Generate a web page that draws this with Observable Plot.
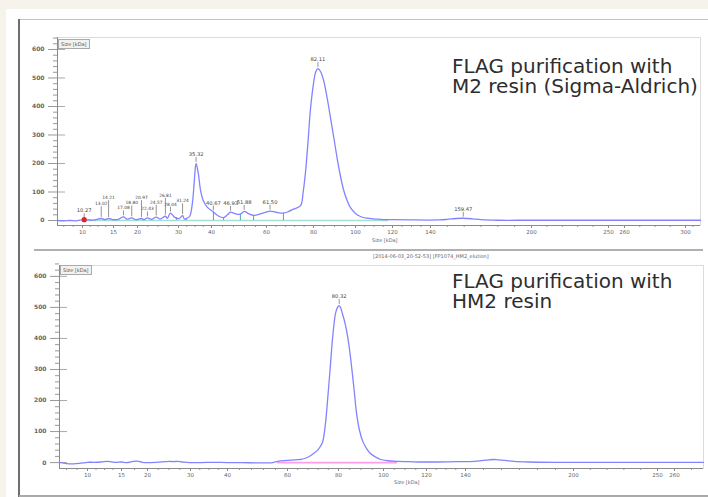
<!DOCTYPE html>
<html><head><meta charset="utf-8">
<script src="https://cdn.jsdelivr.net/npm/d3@7"></script>
<script src="https://cdn.jsdelivr.net/npm/@observablehq/plot@0.6"></script>
<style>
body{margin:0;background:#f6f3ec;font-family:"DejaVu Sans",sans-serif;}
#page{position:relative;width:708px;height:497px;background:#f6f3ec;overflow:hidden;}
.abs{position:absolute;}
.title{position:absolute;font-family:"DejaVu Sans",sans-serif;font-size:20px;line-height:20px;height:20px;color:#2e2e2e;white-space:nowrap;}
.box{position:absolute;border:1px solid #aaa;background:#f2f2f2;font-size:5px;color:#555;line-height:8px;padding:0 2px;white-space:nowrap;}
.small{position:absolute;font-size:5px;color:#666;white-space:nowrap;}
</style></head>
<body>
<div id="page">
  <div class="abs" style="left:6px;top:9px;right:0;bottom:0;background:#fff"></div>
  <div class="abs" style="left:19px;top:19px;right:0;height:1px;background:#c4c4c4"></div>
  <div class="abs" style="left:18px;top:19px;width:1.5px;bottom:0;background:#6e6e6e"></div>
  <div class="abs" style="left:34px;top:249px;right:5px;height:2px;background:#b0b0b0"></div>
  <div class="abs" style="left:19px;top:495px;right:0;height:1.5px;background:#aaa"></div>
  <div id="top" class="abs" style="left:0;top:0"></div>
  <div id="bot" class="abs" style="left:0;top:245px"></div>
  <div class="title" style="left:452px;top:56px">FLAG purification with</div>
  <div class="title" style="left:452px;top:76px">M2 resin (Sigma-Aldrich)</div>
  <div class="title" style="left:452px;top:271px">FLAG purification with</div>
  <div class="title" style="left:452px;top:291px">HM2 resin</div>
  <div class="box" style="left:58px;top:39px">Size [kDa]</div>
  <div class="box" style="left:60px;top:265px">Size [kDa]</div>
  <div class="small" style="left:372px;top:237px">Size [kDa]</div>
  <div class="small" style="left:394px;top:479px">Size [kDa]</div>
  <div class="small" style="left:373px;top:253px">[2014-06-03_20-52-53] [FP1074_HM2_elution]</div>
</div>
<script>
// ---------- data ----------
const topTickKDa = [10,15,20,30,40,60,80,100,120,140,200,250,260,300];
const botTickKDa = [10,15,20,30,40,60,80,100,120,140,200,250,260];
const minorTickKDa = [7,8.5,11.25,12.5,13.75,17.5,22.5,25,27.5,32.5,35,37.5,44,48,52,56,64,68,72,76,85,90,95,105,110,115,125,130,135,150,160,170,180,190,210,220,230,240,270,280,290,305];
const yMajorTicks = [0,100,200,300,400,500,600];

const topKDa = [6,7,8,9,9.6,10.27,11,12,13.02,13.6,14.21,15,16,17.08,17.8,18.8,19.6,20.97,21.6,22.43,23.4,24.57,25.5,26.81,27.3,28.04,29,30.2,31.24,31.8,32.6,33.4,34.2,34.8,35.32,36,36.7,37.5,38.7,40.67,42.5,44.4,45.8,46.93,48.5,50.5,51.88,53.5,55.3,58,61.5,64,67.2,69.5,71.5,74.5,75.6,76.6,77.7,78.7,80,81,82.11,83.4,84.8,86.5,88.1,89.8,91.4,93,94.3,96,97.6,100,102.7,106,110.8,115,120,130,145,150,155,159.47,165,170,180,200,250,300,310];
const topSignal = [0,-1,0,-1,1,3,2,2,7,3,7,3,4,13,5,9,3,7,3,9,4,12,5,15,8,26,12,7,17,5,8,15,60,140,200,165,105,70,47,30,16,10,20,29,24,22,32,24,18,24,33,29,26,32,40,52,100,170,280,390,480,520,533,522,492,430,360,285,212,150,108,70,45,25,14,8,5,3,3,2,2,4,7,8,6,3,1,1,1,1,1];
const topPeakKDa = [10.27,13.02,14.21,17.08,18.8,20.97,22.43,24.57,26.81,28.04,31.24,35.32,40.67,46.93,51.88,61.5,82.11,159.47];
const topPeakHeight = [3,7,7,13,9,7,9,12,15,26,17,200,30,29,32,33,533,8];
const topPeakLabel = ["10.27","13.02","14.21","17.08","18.80","20.97","22.43","24.57","26.81","28.04","31.24","35.32","40.67","46.93","51.88","61.50","82.11","159.47"];
const topMarkerKDa = [29.5,32.3,40.7,44.4,50.5,55.3,67.2];
const topMarkerHeight = [10,6,30,10,22,18,26];
const topBaseline = [10.27,118];

const botKDa = [6,7,8,9,10,11,12,13,14,15,16,17,18,19,20,22,24,25,26,27,28,29,30,33,36,40,45,50,55,56.7,60,63,65,67,69,70.2,72,73.7,74.8,75.7,76.7,77.6,78.3,78.8,79.6,80.32,81,81.8,82.7,83.6,84.7,85.8,87,88,89.3,90.7,92.5,94.2,96.5,98.7,102,106.5,112,117,125,135,145,150,153,155.6,158,162,167,175,190,200,230,260,277];
const botSignal = [1,-3,-4,-2,1,1,2,4,1,2,0,3,5,1,0,1,3,4,3,4,2,1,0,0,1,0,0,-1,0,4,7,9,10,14,22,29,42,65,120,200,300,394,450,480,500,506,498,478,455,425,375,310,230,160,105,70,45,29,18,10,6,4,3,2,2,3,4,7,9,10,9,7,4,2,1,1,1,1,1];
const botPeakKDa = [80.32];
const botPeakHeight = [506];
const botPeakLabel = ["80.32"];
const botBaseline = [56.7,106.5];

// ---------- layout (pixel ranges of the nonlinear size axis) ----------
const topXDomain = [6, ...topTickKDa, 310];
const topXRange  = [57,82,113,137,178,211,266,313,355,392,430,531,608,624,685,700];
const botXDomain = [6, ...botTickKDa, 277];
const botXRange  = [59,87,121,147,190,227,287,338,383,426,465,573,657,674,703];

const yMinorTicks = d3.range(0, 641, 20).filter(v => v % 100 !== 0);
const spikeShape = {draw(ctx, l) { ctx.moveTo(0, 0); ctx.lineTo(0, -l); }};
const traceColor = "#8383ff";

function panel({height, mt, mb, ml, mr, xDomain, xRange, yDomain, ticks, kda, signal, peakKDa, peakH, peakLabel, baseline, baseColor, markerKDa, markerH, dotKDa}) {
  const minor = minorTickKDa.filter(v => v > xDomain[0] && v < xDomain[xDomain.length - 1]);
  // crowded small peaks (indices 1..10 of the top panel) get labels staggered in three rows
  const row = peakKDa.map((d, i) => (peakKDa.length > 1 && i >= 1 && i <= 10) ? (i % 3) + 1 : 0);
  const marks = [
    Plot.frame({stroke: "#dcdcdc"}),
    Plot.axisY(yMajorTicks, {anchor: "left", tickSize: 9, tickPadding: 4, fontSize: 6, fontWeight: "bold", fill: "#666", stroke: "#999"}),
    Plot.axisY(yMajorTicks, {anchor: "left", tickSize: -8, tickFormat: () => "", stroke: "#aaa"}),
    Plot.axisY(yMinorTicks, {anchor: "left", tickSize: 4, tickFormat: () => "", stroke: "#999"}),
    Plot.axisX(ticks, {anchor: "bottom", tickSize: 3, tickPadding: 2, fontSize: 5.5, fill: "#666", stroke: "#888", tickFormat: d => String(d)}),
    Plot.axisX(minor, {anchor: "bottom", tickSize: 2, tickFormat: () => "", stroke: "#999"}),
    Plot.ruleX([xDomain[0]], {stroke: "#8a8a8a"}),
    Plot.ruleY([yDomain[0]], {stroke: "#8a8a8a"}),
    Plot.ruleY([0], {x1: baseline[0], x2: baseline[1], stroke: baseColor, strokeWidth: 1.6})
  ];
  if (markerKDa) marks.push(Plot.ruleX(markerKDa, {x: markerKDa, y1: 0, y2: markerH, stroke: "#3fb0a3", strokeWidth: 1}));
  marks.push(Plot.line(signal, {x: kda, y: signal, curve: "catmull-rom", stroke: traceColor, strokeWidth: 1.3}));
  if (dotKDa) marks.push(Plot.dot([0], {x: [dotKDa], y: [3], r: 2.6, fill: "#e4222c", stroke: "none"}));
  [0, 1, 2, 3].forEach(r => {
    const keep = row.map(v => v === r);
    const lift = r === 0 ? 0 : 6 * (r - 1);
    marks.push(Plot.vector(peakKDa, {x: peakKDa, y: peakH, filter: keep, length: 4 + lift, anchor: "start", dy: -2, shape: spikeShape, stroke: "#666", strokeWidth: 0.7}));
    marks.push(Plot.text(peakKDa, {x: peakKDa, y: peakH, filter: keep, text: peakLabel, dy: -9 - lift, fontSize: r === 0 ? 5.2 : 4.4, fill: "#444"}));
  });
  return Plot.plot({
    width: 708, height,
    marginTop: mt, marginBottom: mb, marginLeft: ml, marginRight: mr,
    style: {background: "transparent", fontFamily: "DejaVu Sans, sans-serif", overflow: "visible"},
    x: {type: "linear", domain: xDomain, range: xRange},
    y: {type: "linear", domain: yDomain},
    marks
  });
}

document.getElementById("top").append(panel({
  height: 250, mt: 37, mb: 25, ml: 57, mr: 8,
  xDomain: topXDomain, xRange: topXRange, yDomain: [-17.5, 642], ticks: topTickKDa,
  kda: topKDa, signal: topSignal, peakKDa: topPeakKDa, peakH: topPeakHeight, peakLabel: topPeakLabel,
  baseline: topBaseline, baseColor: "#a6ddd5", markerKDa: topMarkerKDa, markerH: topMarkerHeight, dotKDa: 10.27
}));
document.getElementById("bot").append(panel({
  height: 252, mt: 20, mb: 29, ml: 59, mr: 5,
  xDomain: botXDomain, xRange: botXRange, yDomain: [-19, 635], ticks: botTickKDa,
  kda: botKDa, signal: botSignal, peakKDa: botPeakKDa, peakH: botPeakHeight, peakLabel: botPeakLabel,
  baseline: botBaseline, baseColor: "#ff9fe6"
}));
</script>
</body></html>
